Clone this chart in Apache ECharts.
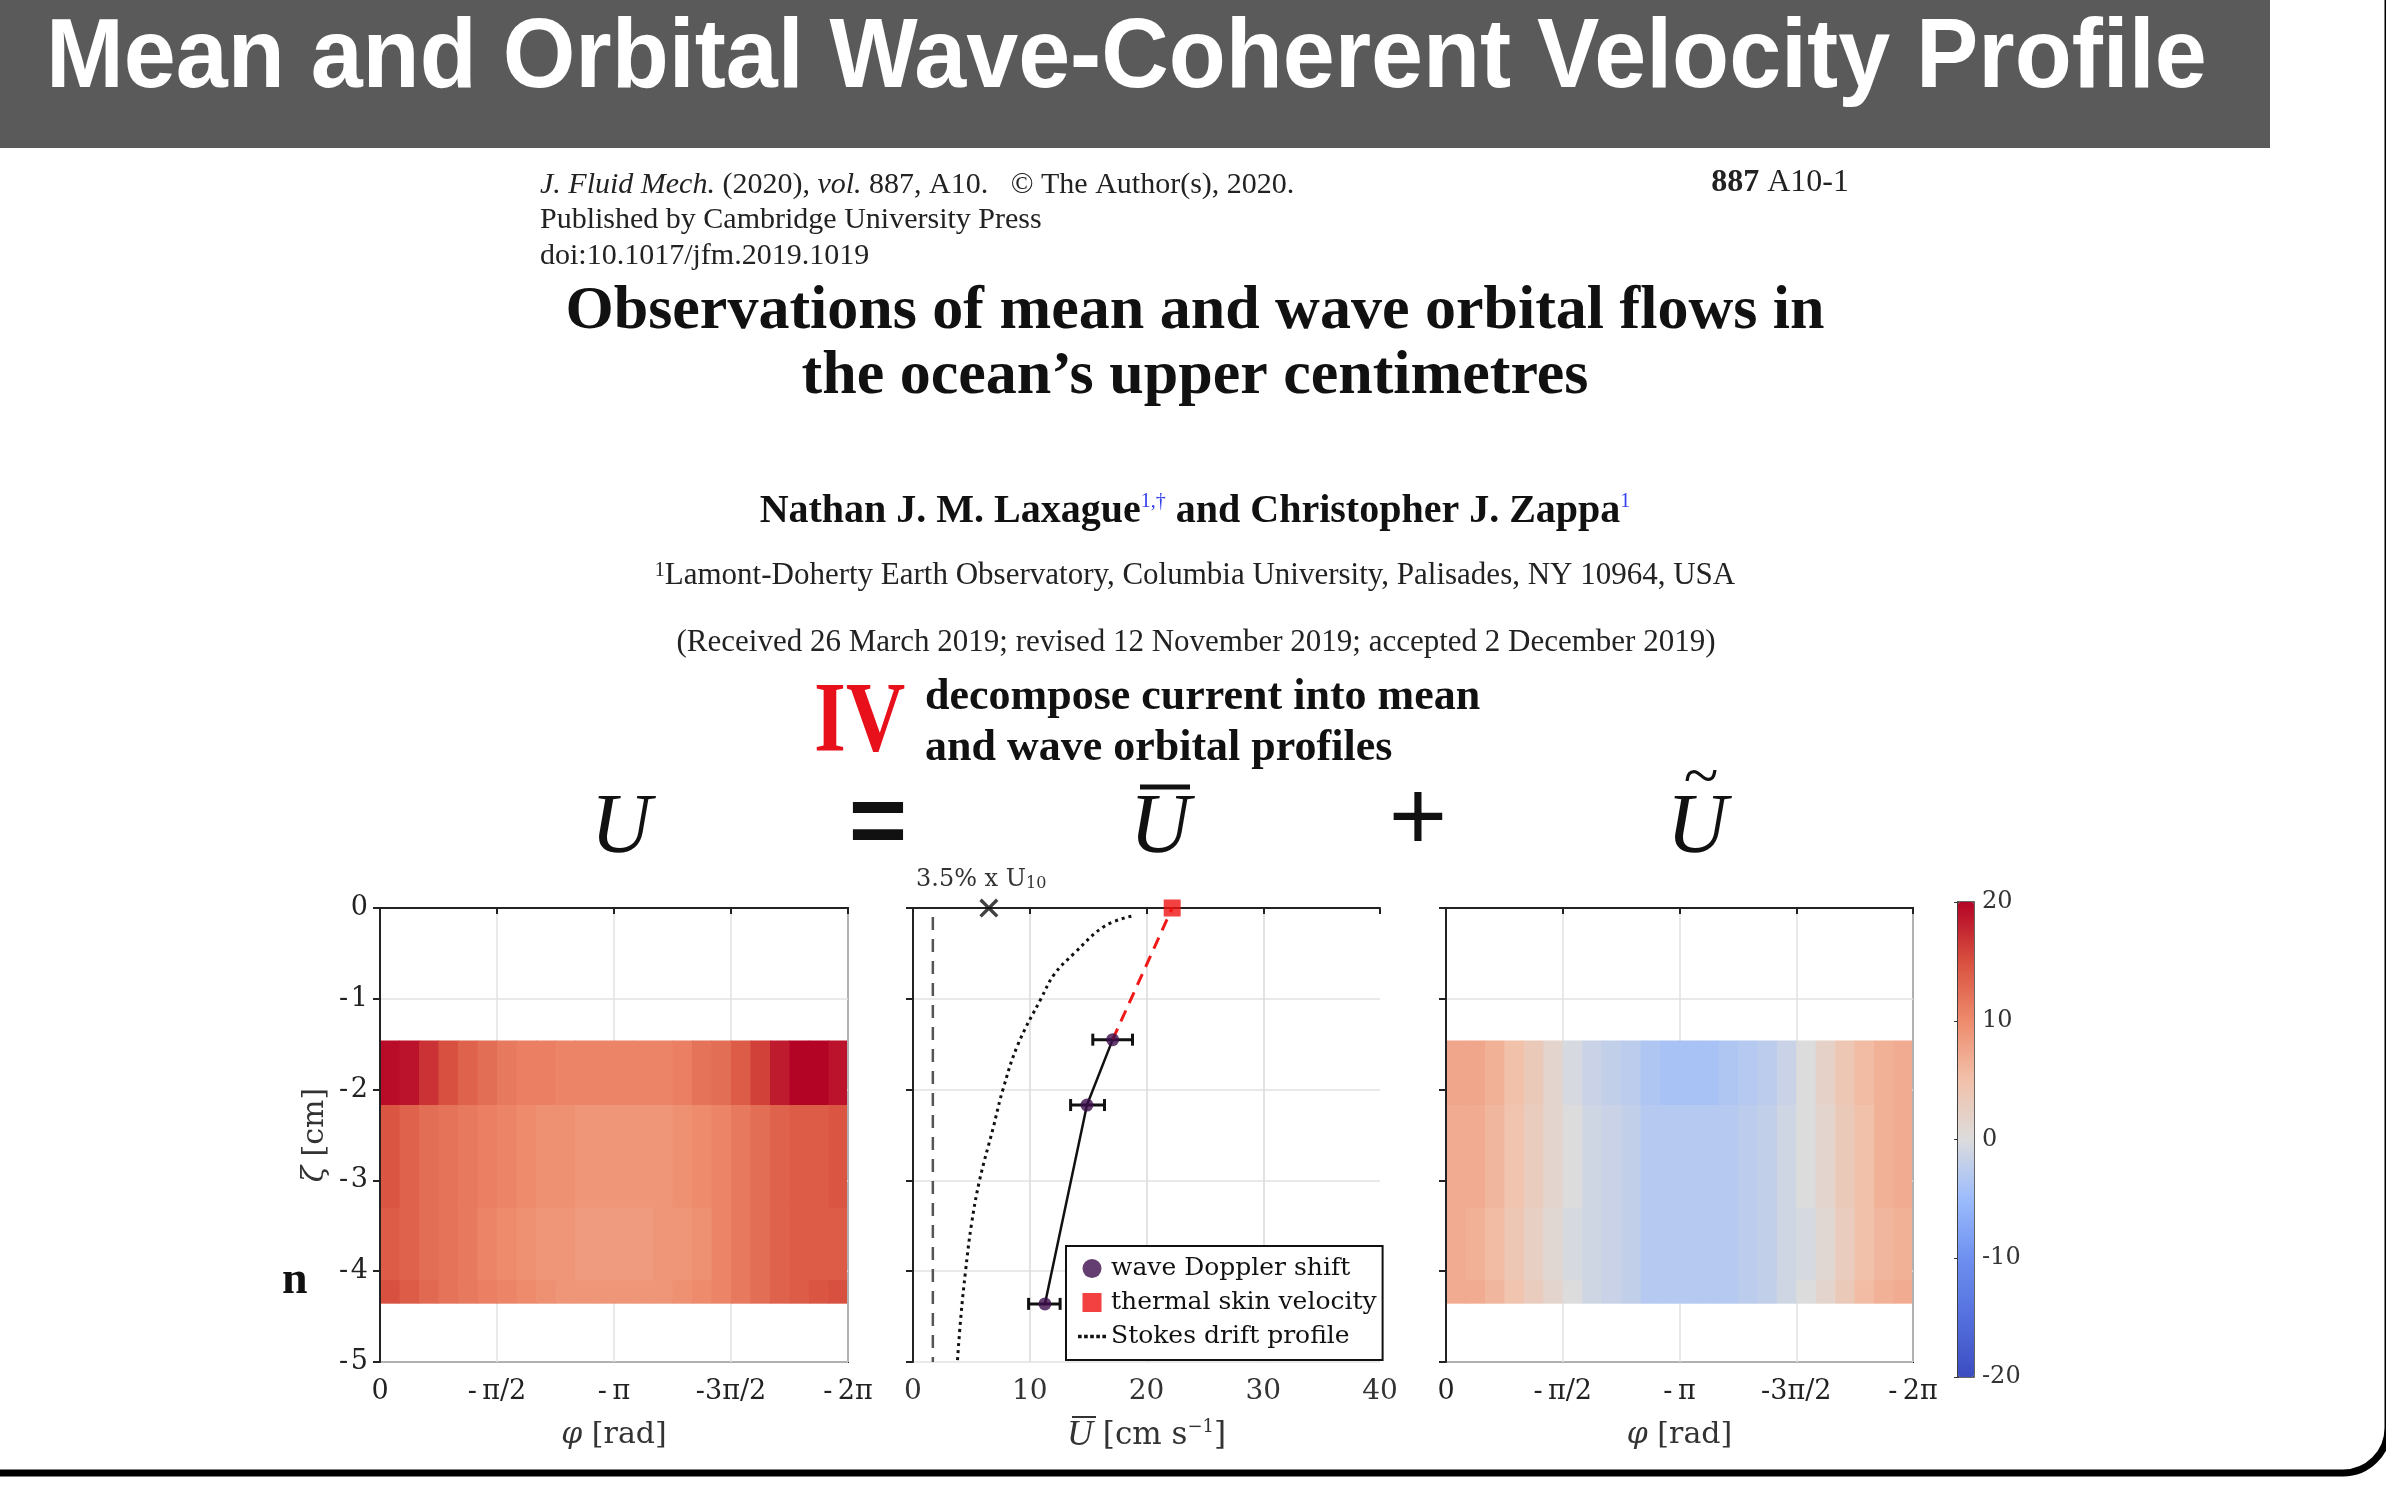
<!DOCTYPE html>
<html>
<head>
<meta charset="utf-8">
<title>Mean and Orbital Wave-Coherent Velocity Profile</title>
<script src="https://cdn.jsdelivr.net/npm/echarts@6/dist/echarts.min.js"></script>
<style>
  html, body { margin: 0; padding: 0; background: #fff; }
  #main { width: 2386px; height: 1490px; }
</style>
</head>
<body>
<div id="main"></div>
<script>
// phase axis, in units of pi, and its tick labels
const phaseTicks = ['0', '-\u2009π/2', '-\u2009π', '-3π/2', '-\u20092π']
const nPhase = 24
// depth bins of the two velocity maps [cm]
const depthEdges = [-1.46, -2.17, -3.3, -4.1, -4.35]

// total velocity U [cm/s], one row per depth bin, phase 0 -> -2π
const uTotal1 = [19.5, 19, 17, 15, 13.5, 12.5, 11.5, 11, 11, 10.5, 10.5, 10.5, 10.5, 10.5, 10.5, 11, 12, 12.5, 14, 16, 18.5, 20, 20, 19]
const uTotal2 = [14.5, 13.5, 12.5, 12, 11.5, 11, 10.5, 10, 9.5, 9.5, 9, 9, 9, 9, 9, 9.5, 10, 10.5, 11.5, 12.5, 13.5, 14, 14, 14.5]
const uTotal3 = [14, 13.5, 12.5, 12, 11.5, 10.5, 10, 9.5, 9, 9, 8.5, 8.5, 8.5, 8.5, 9, 9, 9.5, 10.5, 11.5, 12.5, 13.5, 14, 14, 14]
const uTotal4 = [15, 14, 13, 12, 11.5, 11, 10.5, 10, 9.5, 9, 9, 9, 9, 9, 9, 9.5, 10, 10.5, 11.5, 12.5, 13.5, 14, 14.5, 15]

// wave orbital velocity U~ [cm/s]
const uWave1 = [7.5, 7.5, 6.5, 5, 3.5, 1.5, -0.5, -1.5, -2, -2.5, -3.5, -4, -4, -4, -3.5, -3, -2.5, -1.5, 0, 2, 4, 5.5, 6.5, 7]
const uWave2 = [7, 7, 6, 4.5, 3, 1.5, 0, -1, -1.5, -2, -3, -3, -3, -3, -3, -2.5, -2, -1, 0, 1.5, 3.5, 5, 6.5, 7]
const uWave3 = [7, 6.5, 5.5, 4, 2.5, 1, -0.5, -1, -1.5, -2, -3, -3, -3, -3, -3, -2.5, -2, -1, -0.5, 1, 3, 5, 6, 6.5]
const uWave4 = [7, 7, 6, 4.5, 3, 1.5, 0, -1, -1.5, -2, -3, -3, -3, -3, -3, -2.5, -2, -1, 0, 1.5, 3.5, 5.5, 6.5, 7]

// mean profile (wave Doppler shift) with error bars
const meanDepth = [-1.45, -2.17, -4.36]
const meanU = [17.1, 14.9, 11.3]
const meanLow = [15.4, 13.5, 9.9]
const meanHigh = [18.8, 16.4, 12.6]
// thermal skin velocity
const skinDepth = [0]
const skinU = [22.2]
// Stokes drift profile
const stokesDepth = [-0.09, -0.2, -0.5, -0.73, -0.99, -1.5, -2.0, -2.43, -3.0, -3.49, -4.0, -4.5, -5.0]
const stokesU = [18.7, 16.4, 13.8, 12.1, 11.0, 9.0, 7.7, 6.85, 5.7, 5.0, 4.5, 4.1, 3.8]
// dashed reference line and 3.5% x U10 marker
const refLineU = [1.7, 1.7]
const refLineDepth = [-0.1, -5]
const windMark = [6.5, 0]

const serif = '"Liberation Serif", "DejaVu Serif", serif'
const wideSerif = '"DejaVu Serif", serif'
const coolwarm = ['#3b4cc0', '#5470de', '#6e90f0', '#9cbcfd', '#dcdcdc', '#f2c1aa', '#ee8b6c', '#d8503f', '#b40426']

const chart = echarts.init(document.getElementById('main'))

//build the map cells: [phaseStart, phaseEnd, depthTop, depthBottom, value]
const toCells = (rows) => {
  const out = []
  rows.forEach((row, r) => {
    row.forEach((v, c) => {
      out.push([-2 * c / nPhase, -2 * (c + 1) / nPhase, depthEdges[r], depthEdges[r + 1], v])
    })
  })
  return out
}

const heatItem = (params, api) => {
  const cs = params.coordSys
  const p0 = api.coord([api.value(0), api.value(2)])
  const p1 = api.coord([api.value(1), api.value(3)])
  const x0 = Math.max(Math.min(p0[0], p1[0]), cs.x + 1)
  const x1 = Math.min(Math.max(p0[0], p1[0]) + 0.7, cs.x + cs.width - 1)
  const y0 = Math.min(p0[1], p1[1])
  const y1 = Math.max(p0[1], p1[1]) + 0.7
  return {
    type: 'rect',
    shape: { x: x0, y: y0, width: x1 - x0, height: y1 - y0 },
    style: { fill: api.visual('color') }
  }
}

const errItem = (params, api) => {
  const d = api.value(0)
  const a = api.coord([api.value(1), d])
  const b = api.coord([api.value(2), d])
  const cap = 6
  const st = { stroke: '#111', lineWidth: 3 }
  return {
    type: 'group',
    children: [
      { type: 'line', shape: { x1: a[0], y1: a[1], x2: b[0], y2: b[1] }, style: st },
      { type: 'line', shape: { x1: a[0], y1: a[1] - cap, x2: a[0], y2: a[1] + cap }, style: st },
      { type: 'line', shape: { x1: b[0], y1: b[1] - cap, x2: b[0], y2: b[1] + cap }, style: st }
    ]
  }
}

const nameStyle = {
  fontFamily: wideSerif, fontSize: 30, color: '#333',
  rich: { i: { fontStyle: 'italic', fontFamily: wideSerif, fontSize: 30, color: '#333' } }
}

const phaseAxis = (gi) => ({
  gridIndex: gi,
  type: 'value',
  min: -2,
  max: 0,
  interval: 0.5,
  inverse: true,
  name: '{i|φ} [rad]',
  nameLocation: 'middle',
  nameGap: 58,
  nameTextStyle: nameStyle,
  axisLine: { lineStyle: { color: '#222', width: 2 } },
  axisTick: { inside: false, length: 6, lineStyle: { color: '#222', width: 2 } },
  axisLabel: {
    margin: 16, fontFamily: wideSerif, fontSize: 27, color: '#222',
    formatter: (v) => phaseTicks[Math.round(-v / 0.5)]
  },
  splitLine: { show: true, lineStyle: { color: '#e2e2e2', width: 1.5 } }
})

const depthAxis = (gi, labels) => ({
  gridIndex: gi,
  type: 'value',
  min: -5,
  max: 0,
  interval: 1,
  name: labels ? '{i|ζ} [cm]' : '',
  nameLocation: 'middle',
  nameRotate: 90,
  nameGap: 50,
  nameTextStyle: nameStyle,
  axisLine: { show: true, lineStyle: { color: '#222', width: 2 } },
  axisTick: { show: true, length: 7, lineStyle: { color: '#222', width: 2 } },
  axisLabel: {
    show: labels, margin: 12, fontFamily: wideSerif, fontSize: 27, color: '#222',
    formatter: (v) => (v < 0 ? '-\u200a' + (-v) : String(v))
  },
  splitLine: { show: true, lineStyle: { color: '#e2e2e2', width: 1.5 } }
})

const txt = (x, y, text, font, extra) => ({
  type: 'text',
  x: x,
  y: y,
  z: 10,
  style: Object.assign({ text: text, font: font, fill: '#222', align: 'left', verticalAlign: 'middle' }, extra || {})
})

chart.setOption({
  backgroundColor: '#fff',
  animation: false,
  grid: [
    { left: 380, top: 908, width: 468, height: 454, show: true, borderColor: '#222', borderWidth: 2, backgroundColor: 'transparent' },
    { left: 913, top: 908, width: 467, height: 454 },
    { left: 1446, top: 908, width: 467, height: 454, show: true, borderColor: '#222', borderWidth: 2, backgroundColor: 'transparent' },
    { left: 1958, top: 902, width: 16, height: 475, show: true, borderColor: '#333', borderWidth: 1.5, backgroundColor: 'transparent' }
  ],
  xAxis: [
    phaseAxis(0),
    {
      gridIndex: 1,
      type: 'value',
      min: 0,
      max: 40,
      interval: 10,
      name: '{u|U} [cm s{s|−1}]',
      nameLocation: 'middle',
      nameGap: 56,
      nameTextStyle: {
        fontFamily: wideSerif, fontSize: 31, color: '#333',
        rich: {
          u: { fontStyle: 'italic', fontFamily: serif, fontSize: 36, color: '#333' },
          s: { fontFamily: wideSerif, fontSize: 18, color: '#333', verticalAlign: 'top' }
        }
      },
      axisLine: { lineStyle: { color: '#222', width: 2 } },
      axisTick: { length: 6, lineStyle: { color: '#222', width: 2 } },
      axisLabel: { margin: 16, fontFamily: wideSerif, fontSize: 28, color: '#333' },
      splitLine: { show: true, showMaxLine: false, lineStyle: { color: '#dadada', width: 1.5 } }
    },
    phaseAxis(2),
    { gridIndex: 3, type: 'value', show: false }
  ],
  yAxis: [
    depthAxis(0, true),
    depthAxis(1, false),
    depthAxis(2, false),
    {
      gridIndex: 3,
      type: 'value',
      min: -20,
      max: 20,
      interval: 10,
      position: 'right',
      axisLine: { show: true, lineStyle: { color: '#333', width: 1.5 } },
      axisTick: { show: true, inside: true, length: 4, lineStyle: { color: '#333' } },
      axisLabel: { margin: 8, fontFamily: wideSerif, fontSize: 24, color: '#333' },
      splitLine: { show: false }
    }
  ],
  visualMap: {
    type: 'continuous',
    min: -20,
    max: 20,
    seriesIndex: [0, 1],
    dimension: 4,
    orient: 'vertical',
    left: 1958,
    top: 902,
    padding: 0,
    itemWidth: 16,
    itemHeight: 475,
    calculable: false,
    hoverLink: false,
    inRange: { color: coolwarm }
  },
  legend: {
    left: 1066,
    top: 1246,
    orient: 'vertical',
    selectedMode: false,
    padding: [10, 6, 11, 12],
    itemGap: 9,
    itemWidth: 28,
    itemHeight: 19,
    borderColor: '#111',
    borderWidth: 2,
    borderRadius: 0,
    backgroundColor: '#fff',
    textStyle: { fontFamily: wideSerif, fontSize: 25, color: '#111' },
    data: [
      { name: 'wave Doppler shift', icon: 'circle' },
      { name: 'thermal skin velocity', icon: 'path://M0,0h10v10h-10z' },
      { name: 'Stokes drift profile', icon: 'path://M0,0h3v3h-3zM5,0h3v3h-3zM10,0h3v3h-3zM15,0h3v3h-3zM20,0h3v3h-3z' }
    ]
  },
  series: [
    {
      name: 'U',
      type: 'custom',
      xAxisIndex: 0,
      yAxisIndex: 0,
      renderItem: heatItem,
      encode: { x: [0, 1], y: [2, 3] },
      data: toCells([uTotal1, uTotal2, uTotal3, uTotal4])
    },
    {
      name: 'U wave',
      type: 'custom',
      xAxisIndex: 2,
      yAxisIndex: 2,
      renderItem: heatItem,
      encode: { x: [0, 1], y: [2, 3] },
      data: toCells([uWave1, uWave2, uWave3, uWave4])
    },
    {
      name: 'reference',
      type: 'line',
      xAxisIndex: 1,
      yAxisIndex: 1,
      symbol: 'none',
      lineStyle: { color: '#555', width: 2.5, type: [13, 9] },
      data: refLineU.map((u, i) => [u, refLineDepth[i]])
    },
    {
      name: 'Stokes drift profile',
      type: 'line',
      xAxisIndex: 1,
      yAxisIndex: 1,
      smooth: 0.4,
      symbol: 'none',
      color: '#111',
      lineStyle: { color: '#111', width: 3, type: [3, 4] },
      data: stokesU.map((u, i) => [u, stokesDepth[i]])
    },
    {
      name: 'skin link',
      type: 'line',
      xAxisIndex: 1,
      yAxisIndex: 1,
      symbol: 'none',
      lineStyle: { color: '#f01818', width: 3, type: [12, 8] },
      data: [[meanU[0], meanDepth[0]], [skinU[0], skinDepth[0]]]
    },
    {
      name: 'mean line',
      type: 'line',
      xAxisIndex: 1,
      yAxisIndex: 1,
      symbol: 'none',
      lineStyle: { color: '#111', width: 2.5 },
      data: meanU.map((u, i) => [u, meanDepth[i]])
    },
    {
      name: 'error',
      type: 'custom',
      xAxisIndex: 1,
      yAxisIndex: 1,
      renderItem: errItem,
      encode: { x: [1, 2], y: 0 },
      data: meanDepth.map((d, i) => [d, meanLow[i], meanHigh[i]]),
      z: 3
    },
    {
      name: 'wave Doppler shift',
      type: 'scatter',
      xAxisIndex: 1,
      yAxisIndex: 1,
      symbolSize: 13,
      color: '#3d0d4e',
      itemStyle: { color: '#3d0d4e' },
      data: meanU.map((u, i) => [u, meanDepth[i]]),
      z: 4
    },
    {
      name: 'thermal skin velocity',
      type: 'scatter',
      xAxisIndex: 1,
      yAxisIndex: 1,
      symbol: 'rect',
      symbolSize: 17,
      clip: false,
      color: '#f01010',
      itemStyle: { color: '#f01010' },
      data: skinU.map((u, i) => [u, skinDepth[i]]),
      z: 4
    },
    {
      name: '3.5% x U10',
      type: 'scatter',
      xAxisIndex: 1,
      yAxisIndex: 1,
      symbol: 'path://M0,2.5L2.5,0L10,7.5L17.5,0L20,2.5L12.5,10L20,17.5L17.5,20L10,12.5L2.5,20L0,17.5L7.5,10Z',
      symbolSize: 19,
      clip: false,
      itemStyle: { color: '#111' },
      data: [windMark]
    }
  ],
  graphic: [
    // slide frame and title bar
    { type: 'rect', z: 1, shape: { x: -50, y: -60, width: 2438, height: 1533, r: 45 }, style: { fill: 'none', stroke: '#000', lineWidth: 7 } },
    { type: 'rect', z: 2, shape: { x: 0, y: 0, width: 2270, height: 148 }, style: { fill: '#5a5a5a' } },
    {
      type: 'text', x: 46, y: 60, z: 10, scaleX: 0.953,
      style: { text: 'Mean and Orbital Wave-Coherent Velocity Profile', font: 'bold 98px "Liberation Sans", Arial, sans-serif', fill: '#fff', verticalAlign: 'middle' }
    },
    // paper header
    txt(540, 185, '{i|J. Fluid Mech.} (2020), {i|vol.} 887, A10.   © The Author(s), 2020.', '30px ' + serif,
      { rich: { i: { fontStyle: 'italic', fontFamily: serif, fontSize: 30 } } }),
    txt(1849, 183, '{b|887} A10-1', '32px ' + serif, { align: 'right', rich: { b: { fontWeight: 'bold', fontFamily: serif, fontSize: 32 } } }),
    txt(540, 220, 'Published by Cambridge University Press', '30px ' + serif),
    txt(540, 256, 'doi:10.1017/jfm.2019.1019', '30px ' + serif),
    txt(1195, 312, 'Observations of mean and wave orbital flows in', 'bold 62px ' + serif, { align: 'center', fill: '#111' }),
    txt(1195, 377, 'the ocean’s upper centimetres', 'bold 62px ' + serif, { align: 'center', fill: '#111' }),
    txt(1195, 512, 'Nathan J. M. Laxague{s|1,†} and Christopher J. Zappa{s|1}', 'bold 40px ' + serif,
      { align: 'center', fill: '#111', rich: { s: { fontFamily: serif, fontSize: 20, fill: '#3340ee', verticalAlign: 'top' } } }),
    txt(1195, 576, '{s|1}Lamont-Doherty Earth Observatory, Columbia University, Palisades, NY 10964, USA', '31px ' + serif,
      { align: 'center', rich: { s: { fontFamily: serif, fontSize: 20, verticalAlign: 'top' } } }),
    txt(1196, 643, '(Received 26 March 2019; revised 12 November 2019; accepted 2 December 2019)', '31px ' + serif, { align: 'center' }),
    // step label
    { type: 'text', x: 814, y: 724, z: 10, scaleX: 0.82, style: { text: 'IV', font: 'bold 100px ' + serif, fill: '#e8101a', verticalAlign: 'middle' } },
    txt(925, 698, 'decompose current into mean', 'bold 44px ' + serif, { fill: '#111' }),
    txt(925, 749, 'and wave orbital profiles', 'bold 44px ' + serif, { fill: '#111' }),
    // equation row
    txt(621, 830, 'U', 'italic 84px ' + serif, { align: 'center', fill: '#111' }),
    txt(878, 826, '=', 'bold 100px "Liberation Sans", Arial, sans-serif', { align: 'center', fill: '#111' }),
    txt(1160, 830, 'U', 'italic 84px ' + serif, { align: 'center', fill: '#111' }),
    { type: 'line', z: 10, shape: { x1: 1140, y1: 787, x2: 1190, y2: 787 }, style: { stroke: '#111', lineWidth: 5 } },
    txt(1418, 822, '+', '100px "Liberation Sans", Arial, sans-serif', { align: 'center', fill: '#111' }),
    txt(1697, 830, 'U', 'italic 84px ' + serif, { align: 'center', fill: '#111' }),
    txt(1701, 780, '~', '64px ' + serif, { align: 'center', fill: '#111' }),
    // annotation over the middle panel
    txt(916, 880, '3.5% x U{sub|10}', '24px ' + wideSerif, { fill: '#333', rich: { sub: { fontFamily: wideSerif, fontSize: 16, verticalAlign: 'bottom' } } }),
    // overline of the mean velocity axis name
    { type: 'line', z: 10, shape: { x1: 1072, y1: 1417, x2: 1096, y2: 1417 }, style: { stroke: '#333', lineWidth: 2 } },
    // clipped word fragment at left
    txt(282, 1281, 'n', 'bold 46px ' + serif, { fill: '#111' })
  ]
})
</script>
</body>
</html>
